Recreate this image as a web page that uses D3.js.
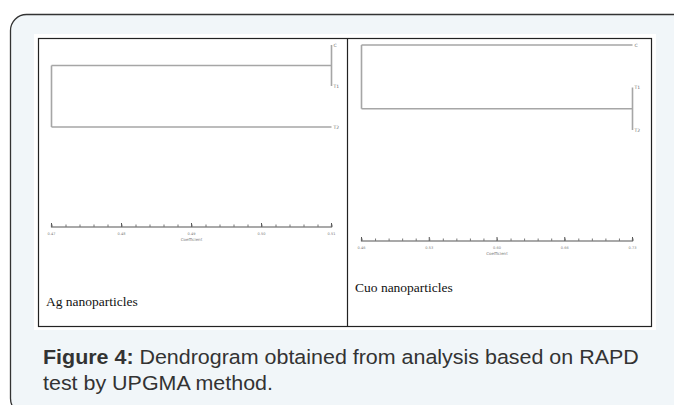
<!DOCTYPE html>
<html><head><meta charset="utf-8">
<script src="https://cdn.jsdelivr.net/npm/d3@7"></script>
<style>body{margin:0;background:#fff;}svg{display:block;}</style>
</head><body>
<script>
// ---- data ----
const agLeaves = ["C", "T1", "T2"];
const agMerges = [ // [leftChild, rightChild, coefficient]
  ["C", "T1", 0.51],
  ["C+T1", "T2", 0.47]
];
const agTicks = ["0.47", "0.48", "0.49", "0.50", "0.51"];
const agDomain = [0.47, 0.51];

const cuoLeaves = ["C", "T1", "T2"];
const cuoMerges = [
  ["T1", "T2", 0.73],
  ["C", "T1+T2", 0.46]
];
const cuoTicks = ["0.46", "0.53", "0.60", "0.66", "0.73"];
const cuoDomain = [0.46, 0.73];

const W = 674, H = 405;
const svg = d3.select("body").append("svg").attr("width", W).attr("height", H);

// outer card
svg.append("rect").attr("x", 10.5).attr("y", 14.5).attr("width", 690).attr("height", 400)
  .attr("rx", 16).attr("fill", "#f1f6f9").attr("stroke", "#333").attr("stroke-width", 1.3);
// white figure area
svg.append("rect").attr("x", 34).attr("y", 34).attr("width", 622).attr("height", 296).attr("fill", "#fff");
svg.append("rect").attr("x", 38.5).attr("y", 38.5).attr("width", 613).attr("height", 288)
  .attr("fill", "none").attr("stroke", "#222").attr("stroke-width", 1.2);
svg.append("line").attr("x1", 347.5).attr("x2", 347.5).attr("y1", 38.5).attr("y2", 326.5)
  .attr("stroke", "#222").attr("stroke-width", 1.2);

function dendro(cfg) {
  const x = d3.scaleLinear().domain(cfg.domain).range(cfg.xRange);
  const y = d3.scalePoint().domain(cfg.leaves).range(cfg.yRange);
  const nodes = {};
  cfg.leaves.forEach(l => nodes[l] = {y: y(l), v: cfg.domain[1]});
  const g = svg.append("g");
  const line = (x1, y1, x2, y2) => g.append("line").attr("x1", x1).attr("y1", y1).attr("x2", x2).attr("y2", y2)
    .attr("stroke", "#a6a6a6").attr("stroke-width", 1.6);
  cfg.merges.forEach(([a, b, v]) => {
    const A = nodes[a], B = nodes[b];
    const xm = x(v);
    line(x(A.v), A.y, xm, A.y);
    line(x(B.v), B.y, xm, B.y);
    line(xm, A.y, xm, B.y);
    nodes[a + "+" + b] = {y: (A.y + B.y) / 2, v: v};
  });
  // leaf labels
  cfg.leaves.forEach(l => g.append("text").attr("x", x(cfg.domain[1]) + 2).attr("y", y(l) + 1.5)
    .attr("font-family", "DejaVu Sans").attr("font-size", 4.5).attr("fill", "#666").text(l));
  // axis
  const axis = d3.axisBottom(x).tickValues(d3.range(21).map(i => cfg.domain[0] + i * (cfg.domain[1] - cfg.domain[0]) / 20))
    .tickSize(2.5).tickFormat("");
  const ag = svg.append("g").attr("transform", `translate(0,${cfg.axisY})`).call(axis);
  ag.select(".domain").attr("d", `M${cfg.xRange[0]},-2.5V0H${cfg.xRange[1]}V-2.5`).attr("stroke", "#555").attr("stroke-width", 1.2);
  ag.selectAll(".tick line").attr("y2", -2.5).attr("stroke", "#777");
  const xt = d3.scaleLinear().domain([0, cfg.ticks.length - 1]).range(cfg.xRange);
  cfg.ticks.forEach((t, i) => {
    g.append("line").attr("x1", xt(i)).attr("x2", xt(i)).attr("y1", cfg.axisY - 4).attr("y2", cfg.axisY)
      .attr("stroke", "#555").attr("stroke-width", 1);
    g.append("text").attr("x", xt(i)).attr("y", cfg.axisY + 8).attr("text-anchor", "middle")
      .attr("font-family", "DejaVu Sans").attr("font-size", 3.5).attr("fill", "#777").text(t);
  });
  g.append("text").attr("x", (cfg.xRange[0] + cfg.xRange[1]) / 2).attr("y", cfg.axisY + 14).attr("text-anchor", "middle")
    .attr("font-family", "DejaVu Sans").attr("font-size", 4).attr("fill", "#777").text("Coefficient");
  svg.append("text").attr("x", cfg.labelX).attr("y", cfg.labelY)
    .attr("font-family", "Liberation Serif").attr("font-size", 13.5).attr("fill", "#111").text(cfg.label);
}

dendro({leaves: agLeaves, merges: agMerges, domain: agDomain, ticks: agTicks,
  xRange: [51.5, 331.5], yRange: [45, 127], axisY: 227, label: "Ag nanoparticles", labelX: 46, labelY: 306});
dendro({leaves: cuoLeaves, merges: cuoMerges, domain: cuoDomain, ticks: cuoTicks,
  xRange: [361.5, 632.5], yRange: [45, 130], axisY: 241, label: "Cuo nanoparticles", labelX: 355, labelY: 292});

// caption
const cap = svg.append("g").attr("transform", "translate(43,0) scale(1.1,1)")
  .attr("font-family", "Liberation Sans").attr("font-size", 19.5).attr("fill", "#333");
const t1 = cap.append("text").attr("x", 0).attr("y", 364);
t1.append("tspan").attr("font-weight", "bold").text("Figure 4:");
t1.append("tspan").text(" Dendrogram obtained from analysis based on RAPD");
cap.append("text").attr("x", 0).attr("y", 390).text("test by UPGMA method.");
</script>
</body></html>
